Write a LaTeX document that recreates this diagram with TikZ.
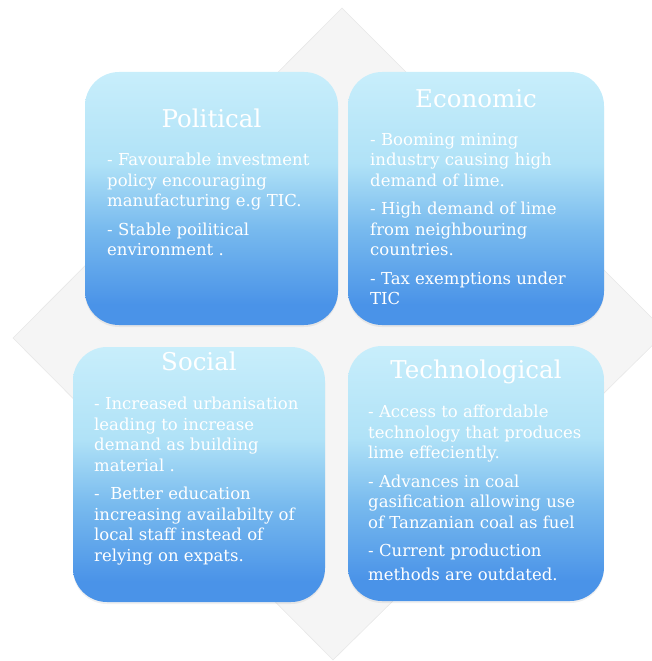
\documentclass[tikz,border=0pt]{standalone}
\usepackage{fontspec}
\setmainfont{DejaVu Serif}
\usetikzlibrary{
positioning,%
shadows
}
\definecolor{boxtop}{RGB}{200,238,251}
\definecolor{boxlight}{RGB}{176,226,247}
\definecolor{boxmid}{RGB}{120,186,238}
\definecolor{boxbot}{RGB}{74,147,232}
\pgfdeclareverticalshading{pestshade}{100bp}{color(0bp)=(boxbot); color(29bp)=(boxbot); color(44bp)=(boxmid); color(57bp)=(boxlight); color(75bp)=(boxtop); color(100bp)=(boxtop)}
\tikzset{
    card/.style={shading=pestshade, rounded corners=34pt, inner sep=0pt, outer sep=0pt,
        drop shadow={opacity=0.12, shadow xshift=0pt, shadow yshift=-2pt}},
    cardhead/.style={text=white, inner sep=0pt, text height=16pt, text depth=5pt,
        font=\fontsize{24.5}{28}\selectfont},
    cardtext/.style={text=white, inner sep=0pt, align=left,
        font=\fontsize{16.5}{20.5}\selectfont},
    backdrop/.style={fill=black!4, draw=black!9, line width=0.6pt}
}

\begin{document}
\begin{tikzpicture}[x=1pt, y=-1pt]
    \useasboundingbox (0,0) rectangle (652,661);
    % grey square turned on its corner behind the four cards
    \draw[backdrop] (342,8) -- (666,332) -- (333,660) -- (13,338) -- cycle;

    \node[card, minimum width=253pt, minimum height=253pt] (pol) at (211.5,198.5) {};
    \node[card, minimum width=256pt, minimum height=253pt] (eco) at (476,198.5) {};
    \node[card, minimum width=252pt, minimum height=255pt] (soc) at (199,474.5) {};
    \node[card, minimum width=256pt, minimum height=255pt] (tec) at (476,473.5) {};

    \node[cardhead, below=39.5pt of pol.north] (polh) {Political};
    \node[cardhead, below=19.5pt of eco.north] (ecoh) {Economic};
    \node[cardhead, below=7.5pt of soc.north] (soch) {Social};
    \node[cardhead, below=16.5pt of tec.north] (tech) {Technological};

    \node[cardtext, below right=81pt and 22pt of pol.north west] (polt) {%
        - Favourable investment\\ policy encouraging\\ manufacturing e.g TIC.\\[8pt]
        - Stable poilitical\\ environment .};
    \node[cardtext, below right=61pt and 22pt of eco.north west] (ecot) {%
        - Booming mining\\ industry causing high\\ demand of lime.\\[8pt]
        - High demand of lime\\ from neighbouring\\ countries.\\[8pt]
        - Tax exemptions under\\ TIC};
    \node[cardtext, below right=50pt and 21pt of soc.north west] (soct) {%
        - Increased urbanisation\\ leading to increase\\ demand as building\\ material .\\[8pt]
        -\ \ Better education\\ increasing availabilty of\\ local staff instead of\\ relying on expats.};
    \node[cardtext, below right=59pt and 20pt of tec.north west] (tect) {%
        - Access to affordable\\ technology that produces\\ lime effeciently.\\[8pt]
        - Advances in coal\\ gasification allowing use\\ of Tanzanian coal as fuel\\[8pt]
        - Current production\\[3.5pt] methods are outdated.};
\end{tikzpicture}
\end{document}
